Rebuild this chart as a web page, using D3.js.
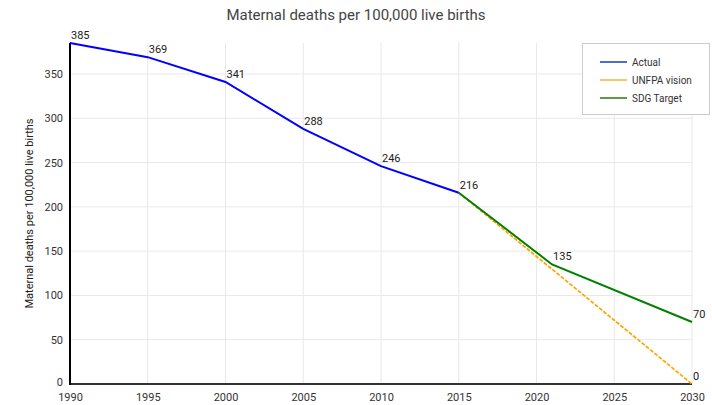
<!DOCTYPE html>
<html>
<head>
<meta charset="utf-8">
<script src="https://cdn.jsdelivr.net/npm/d3@7"></script>
<style>
  body { margin: 0; background: #fff; }
  text { font-family: Roboto, "Noto Sans", sans-serif; }
</style>
</head>
<body>
<div id="chart"></div>
<script>
// data
var actualYears = [1990, 1995, 2000, 2005, 2010, 2015];
var actualValues = [385, 369, 341, 288, 246, 216];
var unfpaYears = [2015, 2030];
var unfpaValues = [216, 0];
var sdgYears = [2015, 2021, 2030];
var sdgValues = [216, 135, 70];
var xTicks = [1990, 1995, 2000, 2005, 2010, 2015, 2020, 2025, 2030];
var yTicks = [0, 50, 100, 150, 200, 250, 300, 350];
var seriesNames = ["Actual", "UNFPA vision", "SDG Target"];

var width = 712, height = 405;
var margin = { top: 43, right: 20, bottom: 21, left: 70 };

var svg = d3.select("#chart").append("svg")
  .attr("width", width)
  .attr("height", height);

var x = d3.scaleLinear().domain([1990, 2030]).range([margin.left, 692]);
var y = d3.scaleLinear().domain([0, 385]).range([384, margin.top]);

// title
svg.append("text")
  .attr("x", 356).attr("y", 20)
  .attr("text-anchor", "middle")
  .style("font-size", "15px")
  .style("fill", "#444")
  .text("Maternal deaths per 100,000 live births");

// gridlines
svg.append("g")
  .selectAll("line.h")
  .data(yTicks.slice(1))
  .join("line")
  .attr("x1", x(1990)).attr("x2", x(2030))
  .attr("y1", d => y(d)).attr("y2", d => y(d))
  .attr("stroke", "#e8e8e8");

svg.append("g")
  .selectAll("line.v")
  .data(xTicks.slice(1))
  .join("line")
  .attr("x1", d => x(d)).attr("x2", d => x(d))
  .attr("y1", y(385)).attr("y2", y(0))
  .attr("stroke", "#e8e8e8");

// axes
var yAxis = svg.append("g")
  .attr("transform", "translate(" + x(1990) + ",0)")
  .call(d3.axisLeft(y).tickValues(yTicks).tickSize(0).tickPadding(7));
yAxis.select(".domain").remove();
yAxis.selectAll("text").style("font-size", "11px").style("fill", "#333");
// nudge the zero label up a little so it clears the 1990 label
yAxis.selectAll(".tick text").filter(d => d === 0).attr("dy", "0.1em");

var xAxis = svg.append("g")
  .attr("transform", "translate(0," + y(0) + ")")
  .call(d3.axisBottom(x).tickValues(xTicks).tickFormat(d3.format("d")).tickSize(0).tickPadding(9));
xAxis.select(".domain").remove();
xAxis.selectAll("text").style("font-size", "11px").style("fill", "#333");

svg.append("line")
  .attr("x1", x(1990)).attr("x2", x(2030))
  .attr("y1", y(0)).attr("y2", y(0))
  .attr("stroke", "#333").attr("stroke-width", 2);
svg.append("line")
  .attr("x1", x(1990)).attr("x2", x(1990))
  .attr("y1", y(385)).attr("y2", y(0) + 1)
  .attr("stroke", "#000").attr("stroke-width", 2);

// y axis title
svg.append("text")
  .attr("transform", "translate(33," + ((y(0) + y(385)) / 2) + ") rotate(-90)")
  .attr("text-anchor", "middle")
  .style("font-size", "11px")
  .style("fill", "#222")
  .text("Maternal deaths per 100,000 live births");

var line = d3.line().x(d => x(d[0])).y(d => y(d[1]));

function drawSeries(years, values, color, w, dash) {
  var pts = d3.zip(years, values);
  svg.append("path")
    .datum(pts)
    .attr("fill", "none")
    .attr("stroke", color)
    .attr("stroke-width", w)
    .attr("stroke-dasharray", dash)
    .attr("d", line);
}

drawSeries(unfpaYears, unfpaValues, "#ffa500", 1.7, "4,1.5");
drawSeries(sdgYears, sdgValues, "#008000", 2, null);
drawSeries(actualYears, actualValues, "#0000ff", 2, null);

// data labels
var labels = d3.zip(actualYears, actualValues)
  .concat(d3.zip(sdgYears.slice(1), sdgValues.slice(1)))
  .concat([[unfpaYears[1], unfpaValues[1]]]);

svg.append("g")
  .selectAll("text")
  .data(labels)
  .join("text")
  .attr("x", d => x(d[0]) + 1)
  .attr("y", d => y(d[1]) - 4)
  .style("font-size", "11px")
  .style("fill", "#222")
  .text(d => d[1]);

// legend
var legend = svg.append("g").attr("transform", "translate(582,43)");
legend.append("rect")
  .attr("x", 0.5).attr("y", 0.5)
  .attr("width", 127).attr("height", 71)
  .attr("fill", "#fff")
  .attr("stroke", "#ccc");

var legendColors = ["#4a6fd1", "#ffc266", "#5b9a47"];
seriesNames.forEach(function (name, i) {
  var yy = 19 + i * 18;
  legend.append("line")
    .attr("x1", 18).attr("x2", 45)
    .attr("y1", yy).attr("y2", yy)
    .attr("stroke", legendColors[i]).attr("stroke-width", 2);
  legend.append("text")
    .attr("x", 50).attr("y", yy + 4)
    .style("font-size", "10px")
    .style("fill", "#333")
    .text(name);
});
</script>
</body>
</html>
